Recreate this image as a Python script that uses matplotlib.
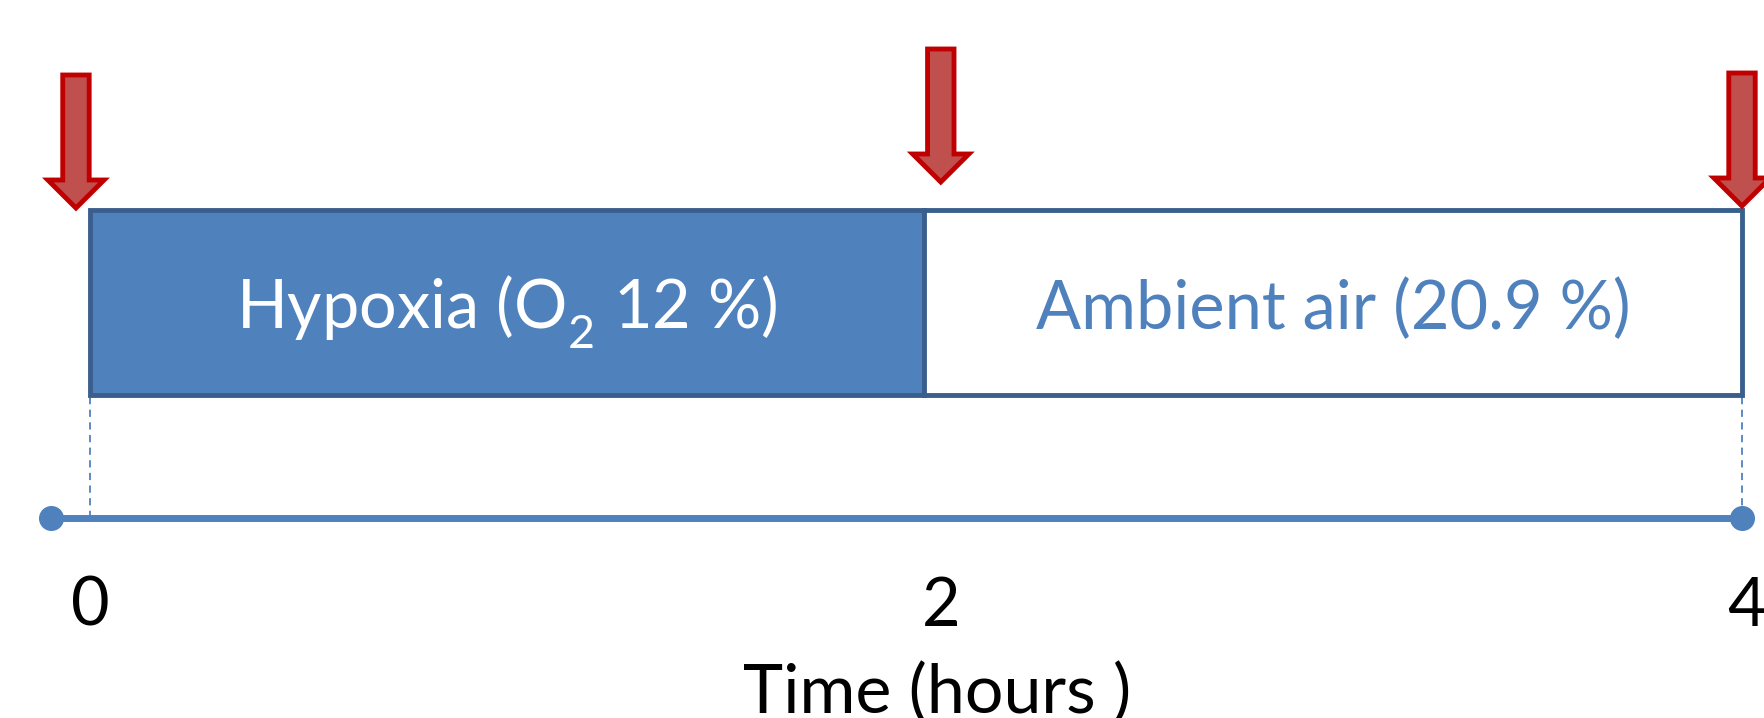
import matplotlib
matplotlib.use("Agg")
import matplotlib.pyplot as plt
import matplotlib._mathtext as mathtext
from matplotlib.patches import Rectangle, Polygon

plt.rcParams['font.family'] = ['Lato', 'DejaVu Sans']
plt.rcParams['mathtext.fontset'] = 'custom'
plt.rcParams['mathtext.rm'] = 'Lato'
plt.rcParams['mathtext.default'] = 'regular'
# drop the subscript a bit lower than the default
mathtext.FontConstantsBase.sub1 = 0.6

# protocol phases (hours)
phase_labels = ["Hypoxia (O$_2$ 12 %)", "Ambient air (20.9 %)"]
phase_edges = [0, 2.02, 4]
# sampling points (arrows) and time axis labels
arrow_times = [-0.034, 2.06, 4.0]
arrow_tips = [3.10, 3.36, 3.12]
tick_labels = ["0", "2", "4"]
tick_pos = [0, 2.06, 4.01]
line_start, line_end = -0.094, 4.0

BLUE = "#4F81BD"
DARK_BLUE = "#3A5F8C"
RED_FILL = "#C0504D"
RED_EDGE = "#C00000"

fig = plt.figure(figsize=(17.65, 7.18), dpi=100)
ax = fig.add_axes([0, 0, 1, 1])
ax.set_xlim(-90 / 413, 1675 / 413)
ax.set_ylim(-2.0, 5.18)
ax.axis("off")

box_bottom, box_top = 1.23, 3.08

# phase boxes
for i, label in enumerate(phase_labels):
    x0, x1 = phase_edges[i], phase_edges[i + 1]
    filled = i == 0
    ax.add_patch(Rectangle((x0, box_bottom), x1 - x0, box_top - box_bottom,
                           facecolor=BLUE if filled else "white",
                           edgecolor=DARK_BLUE, linewidth=3.5, zorder=2))
    ax.text((x0 + x1) / 2, 1.89, label,
            color="white" if filled else BLUE, fontsize=48,
            ha="center", va="baseline", zorder=3)

# dashed guides down to the time axis
for x in (phase_edges[0], phase_edges[-1]):
    ax.plot([x, x], [0, box_bottom], color=BLUE, lw=1.3, ls=(0, (4, 3)), zorder=1)

# time axis
ax.plot([line_start, line_end], [0, 0], color=BLUE, lw=5, zorder=2,
        solid_capstyle="butt")
ax.plot([line_start, line_end], [0, 0], "o", color=BLUE, ms=17, zorder=3)

for x, lab in zip(tick_pos, tick_labels):
    ax.text(x, -1.08, lab, fontsize=48, ha="center", va="baseline")
ax.text(2.05, -1.95, "Time (hours )", fontsize=49, ha="center", va="baseline")

# sampling arrows
shaft_w, head_w, head_len, arrow_len = 0.032, 0.068, 0.28, 1.33
for x, tip in zip(arrow_times, arrow_tips):
    top = tip + arrow_len
    neck = tip + head_len
    pts = [(x - shaft_w, top), (x + shaft_w, top), (x + shaft_w, neck),
           (x + head_w, neck), (x, tip), (x - head_w, neck),
           (x - shaft_w, neck)]
    ax.add_patch(Polygon(pts, closed=True, facecolor=RED_FILL,
                         edgecolor=RED_EDGE, linewidth=3.5,
                         joinstyle="miter", zorder=4))

fig.savefig("out.png", dpi=100)
